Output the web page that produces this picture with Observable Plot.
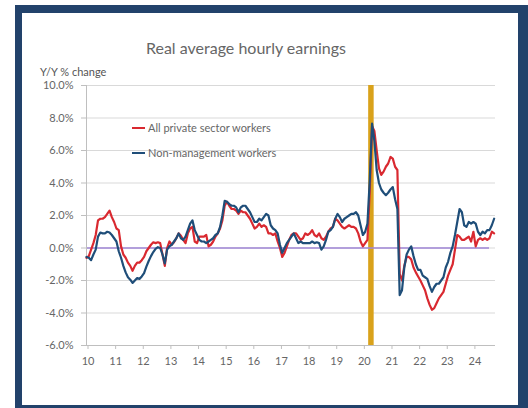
<!DOCTYPE html>
<html>
<head>
<meta charset="utf-8">
<script src="https://cdn.jsdelivr.net/npm/d3@7"></script>
<script src="https://cdn.jsdelivr.net/npm/@observablehq/plot@0.6"></script>
<style>
  body { margin: 0; background: #fff; }
  #wrap { position: relative; width: 528px; height: 408px; overflow: hidden; background: #fff; font-family: Lato, "Open Sans", sans-serif; }
  .abs { position: absolute; }
  #chart svg { position: absolute; left: 0; top: 0; }
</style>
</head>
<body>
<div id="wrap">
  <div class="abs" style="left:15px;top:5px;right:0;bottom:0;background:#22426b"></div>
  <div class="abs" style="left:22px;top:13px;width:496px;height:392px;background:#fff"></div>
  <div id="chart" class="abs" style="left:0;top:0;width:528px;height:408px"></div>
  <div class="abs" style="left:0;top:39px;width:492px;text-align:center;font-size:16px;line-height:18px;color:#666666">Real average hourly earnings</div>
  <div class="abs" style="left:40px;top:65px;font-size:11px;line-height:13px;color:#555555">Y/Y % change</div>
  <div class="abs" style="left:132px;top:127px;width:13px;height:2px;background:#d92930"></div>
  <div class="abs" style="left:148px;top:121px;font-size:11px;line-height:13px;color:#666666">All private sector workers</div>
  <div class="abs" style="left:132px;top:152px;width:13px;height:2px;background:#1f4e79"></div>
  <div class="abs" style="left:148px;top:146px;font-size:11px;line-height:13px;color:#666666">Non-management workers</div>
</div>
<script>
// ---- data (monthly, Jan 2010 onward, Y/Y % change) ----
const startYear = 2010;
const allPrivate = [
  -0.6, -0.5, -0.1, 0.3, 0.8, 1.7, 1.8, 1.8, 1.9, 2.1, 2.3, 1.9,        // 2010
  1.6, 1.2, 1.1, 0.1, -0.4, -0.6, -0.9, -1.1, -1.4, -1.1, -0.9, -0.9,   // 2011
  -0.75, -0.55, -0.2, 0.0, 0.2, 0.35, 0.3, 0.35, 0.3, -0.4, -1.1, 0.0,  // 2012
  0.4, 0.2, 0.35, 0.6, 0.9, 0.75, 0.5, 0.3, 0.9, 1.2, 1.3, 0.4,         // 2013
  0.3, 0.7, 0.7, 0.7, 0.8, 0.1, 0.2, 0.4, 0.7, 0.9, 1.2, 1.7,           // 2014
  2.6, 2.85, 2.6, 2.4, 2.4, 2.3, 2.1, 2.3, 2.2, 2.2, 2.0, 1.8,          // 2015
  1.5, 1.2, 1.3, 1.5, 1.3, 1.4, 1.3, 0.9, 0.9, 0.8, 0.9, 0.4,           // 2016
  0.0, -0.55, -0.3, 0.1, 0.5, 0.8, 0.9, 0.9, 0.7, 0.5, 0.6, 0.9,        // 2017
  0.8, 0.9, 1.1, 0.8, 0.7, 0.9, 0.6, 0.5, 0.7, 1.0, 1.2, 1.3,           // 2018
  1.8, 1.7, 1.5, 1.3, 1.2, 1.3, 1.4, 1.3, 1.3, 1.2, 0.9, 0.4,           // 2019
  0.1, 0.3, 0.5, 3.5, 7.5, 7.2, 6.0, 4.9, 4.5, 4.7, 5.0, 5.2,           // 2020
  5.6, 5.5, 5.0, 4.8, -1.6, -2.0, -1.1, -0.55, -0.55, -0.7, -1.2, -1.5, // 2021
  -1.75, -2.0, -2.3, -2.6, -3.1, -3.5, -3.8, -3.7, -3.4, -3.1, -2.9, -2.7, // 2022
  -2.2, -1.7, -1.35, -1.0, -0.1, 0.8, 0.7, 0.5, 0.5, 0.6, 0.7, 0.4,     // 2023
  1.0, 0.1, 0.5, 0.6, 0.5, 0.6, 0.5, 0.6, 1.0, 0.9                      // 2024
];
const nonManagement = [
  -0.55, -0.6, -0.75, -0.4, -0.1, 0.7, 0.95, 0.9, 0.9, 1.0, 0.95, 0.8,  // 2010
  0.6, 0.4, -0.2, -0.6, -1.1, -1.5, -1.8, -1.95, -2.15, -2.0, -1.85, -1.9, // 2011
  -1.75, -1.55, -1.15, -0.8, -0.5, -0.25, -0.05, 0.05, 0.0, -0.4, -0.95, -0.1, // 2012
  0.1, 0.2, 0.4, 0.6, 0.9, 0.6, 0.5, 0.7, 1.1, 1.5, 1.7, 1.1,           // 2013
  0.8, 0.5, 0.4, 0.4, 0.3, 0.4, 0.5, 0.6, 0.8, 0.9, 1.3, 2.0,           // 2014
  2.9, 2.85, 2.7, 2.6, 2.6, 2.5, 2.2, 2.5, 2.6, 2.6, 2.4, 2.2,          // 2015
  1.9, 1.6, 1.6, 1.8, 1.7, 1.9, 2.1, 2.0, 1.4, 1.2, 1.1, 0.9,           // 2016
  0.2, -0.3, 0.0, 0.3, 0.5, 0.7, 0.9, 0.6, 0.3, 0.4, 0.3, 0.3,          // 2017
  0.3, 0.3, 0.4, 0.3, 0.35, 0.3, -0.1, 0.1, 0.5, 1.0, 1.1, 1.3,         // 2018
  1.8, 2.1, 1.9, 1.6, 1.8, 1.9, 2.0, 2.1, 2.1, 2.2, 2.0, 1.4,           // 2019
  0.8, 1.0, 1.5, 4.2, 7.65, 6.6, 4.8, 4.0, 3.6, 3.4, 3.25, 3.4,         // 2020
  3.6, 3.75, 3.0, 2.4, -2.9, -2.6, -1.2, -0.4, -0.1, 0.1, -0.5, -1.0,   // 2021
  -1.35, -1.35, -1.7, -1.8, -1.9, -2.35, -2.7, -2.4, -2.2, -2.2, -2.0, -1.8, // 2022
  -1.2, -0.85, -0.3, 0.1, 0.8, 1.6, 2.4, 2.2, 1.4, 1.3, 1.6, 1.5,       // 2023
  1.6, 1.5, 1.0, 0.8, 1.0, 0.9, 1.1, 1.1, 1.4, 1.8                      // 2024
];
const seriesNames = ["All private sector workers", "Non-management workers"];
const yearTicks = [2010, 2011, 2012, 2013, 2014, 2015, 2016, 2017, 2018, 2019, 2020, 2021, 2022, 2023, 2024];
const yearLabels = ["10", "11", "12", "13", "14", "15", "16", "17", "18", "19", "20", "21", "22", "23", "24"];
const yTicks = [-6, -4, -2, 0, 2, 4, 6, 8, 10];
const covidMonth = 2020 + 3.5 / 12; // April 2020 recession bar
const xEnd = 2024.8;

// ---- build table ----
const monthDate = i => startYear + i / 12;
const rows = [];
allPrivate.forEach((v, i) => rows.push({date: monthDate(i), value: v, series: seriesNames[0]}));
nonManagement.forEach((v, i) => rows.push({date: monthDate(i), value: v, series: seriesNames[1]}));
const zeroEnd = monthDate(allPrivate.length - 3);

const axisGray = "#bfbfbf";
const textGray = "#666666";

const chart = Plot.plot({
  width: 528,
  height: 408,
  marginLeft: 86,
  marginRight: 33,
  marginTop: 85,
  marginBottom: 63,
  style: {background: "transparent", fontFamily: "Lato, 'Open Sans', sans-serif", fontSize: "11px", color: textGray},
  x: {domain: [startYear, xEnd], label: null},
  y: {domain: [-6, 10], label: null},
  color: {domain: seriesNames, range: ["#d92930", "#1f4e79"]},
  marks: [
    Plot.gridY(yTicks, {stroke: "#d9d9d9", strokeOpacity: 1, strokeWidth: 1}),
    Plot.ruleX([covidMonth], {y1: -6, y2: 10, stroke: "#d9a21b", strokeWidth: 5.5}),
    Plot.ruleY([0], {x1: startYear, x2: zeroEnd, stroke: "#9f86d6", strokeWidth: 1.5}),
    Plot.ruleX([startYear], {stroke: axisGray, strokeWidth: 1}),
    Plot.ruleY([-6], {stroke: axisGray, strokeWidth: 1}),
    Plot.axisY({ticks: yTicks, tickSize: 5, tickPadding: 8, tickFormat: d => d.toFixed(1) + "%", stroke: axisGray, fill: textGray, fontSize: 11, label: null}),
    Plot.axisX({ticks: yearTicks, tickSize: 4, tickPadding: 8, tickFormat: d => yearLabels[yearTicks.indexOf(d)], stroke: axisGray, fill: textGray, fontSize: 11, dx: 1.5, label: null}),
    Plot.lineY(rows, {x: "date", y: "value", z: "series", stroke: "series", strokeWidth: 2.2, curve: "linear"})
  ]
});
document.getElementById("chart").appendChild(chart);
</script>
</body>
</html>
